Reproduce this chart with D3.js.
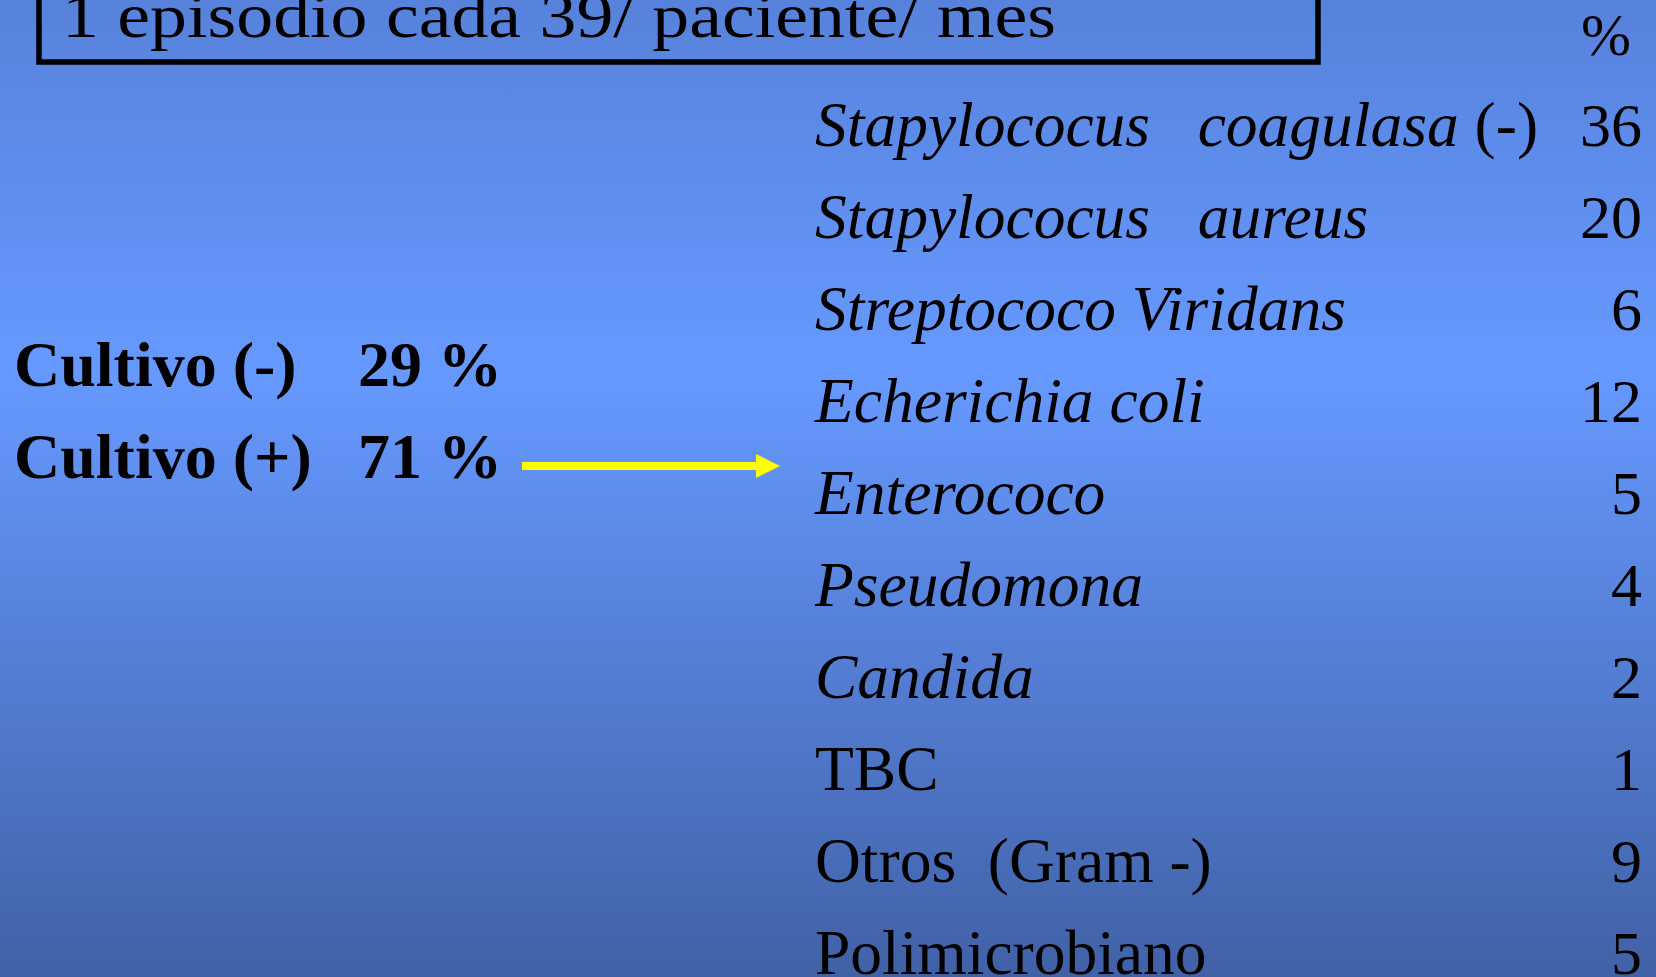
<!DOCTYPE html>
<html>
<head>
<meta charset="utf-8">
<script src="https://cdn.jsdelivr.net/npm/d3@7"></script>
<style>
  html, body { margin: 0; padding: 0; overflow: hidden; }
  text { font-family: "Liberation Serif", "Times New Roman", serif; fill: #000; white-space: pre; }
</style>
</head>
<body>
<script>
// data
var title = "1 episodio cada 39/ paciente/ mes";
var cultivoLabels = ["Cultivo (-)", "Cultivo (+)"];
var cultivoPct = [29, 71];
var organisms = ["Stapylococus   coagulasa (-)", "Stapylococus   aureus", "Streptococo Viridans",
                 "Echerichia coli", "Enterococo", "Pseudomona", "Candida", "TBC",
                 "Otros  (Gram -)", "Polimicrobiano"];
var italic = [true, true, true, true, true, true, true, false, false, false];
var percents = [36, 20, 6, 12, 5, 4, 2, 1, 9, 5];

var width = 1656, height = 977;

var svg = d3.select("body").append("svg")
    .attr("width", width)
    .attr("height", height);

// background gradient
var defs = svg.append("defs");
var grad = defs.append("linearGradient").attr("id", "bg")
    .attr("x1", 0).attr("y1", 0).attr("x2", 0).attr("y2", 1);
grad.append("stop").attr("offset", "0%").attr("stop-color", "#5782db");
grad.append("stop").attr("offset", "38%").attr("stop-color", "#6699ff");
grad.append("stop").attr("offset", "100%").attr("stop-color", "#4161a6");
svg.append("rect").attr("width", width).attr("height", height).attr("fill", "url(#bg)");

// title box (top cut off by the frame)
svg.append("rect")
    .attr("x", 39).attr("y", -20)
    .attr("width", 1318 - 39).attr("height", 62 + 20)
    .attr("fill", "none").attr("stroke", "#000").attr("stroke-width", 5.5);
svg.append("text")
    .attr("x", 62).attr("y", 37)
    .attr("font-size", 64)
    .attr("textLength", 994).attr("lengthAdjust", "spacingAndGlyphs")
    .text(title);

// rows
var y = d3.scalePoint()
    .domain(d3.range(organisms.length))
    .range([146, 146 + 92 * (organisms.length - 1)]);

var listX = 815, numX = 1642;

svg.append("text")
    .attr("x", 1606).attr("y", 55)
    .attr("font-size", 60)
    .attr("text-anchor", "middle")
    .text("%");

var rows = svg.append("g").selectAll("g")
    .data(organisms)
    .join("g");

rows.append("text")
    .attr("x", listX)
    .attr("y", (d, i) => y(i))
    .attr("font-size", 63.5)
    .each(function(d, i) {
      var t = d3.select(this);
      if (!italic[i]) { t.text(d); return; }
      var m = d.match(/^(.*?)(\s*\(.*\))?$/);
      t.append("tspan").attr("font-style", "italic").text(m[1]);
      if (m[2]) t.append("tspan").text(m[2]);
    });

rows.append("text")
    .attr("x", numX)
    .attr("y", (d, i) => y(i))
    .attr("font-size", 62)
    .attr("text-anchor", "end")
    .text((d, i) => percents[i]);

// cultivo labels
var yc = d3.scalePoint().domain(d3.range(cultivoLabels.length)).range([386, 478]);

var cult = svg.append("g").selectAll("g")
    .data(cultivoLabels)
    .join("g")
    .attr("font-weight", "bold")
    .attr("font-size", 64);
cult.append("text")
    .attr("x", 14).attr("y", (d, i) => yc(i))
    .text(d => d);
cult.append("text")
    .attr("x", 358).attr("y", (d, i) => yc(i))
    .text((d, i) => cultivoPct[i] + " %");

// yellow arrow
var ay = 466;
svg.append("line")
    .attr("x1", 522).attr("x2", 758)
    .attr("y1", ay).attr("y2", ay)
    .attr("stroke", "#ffff00").attr("stroke-width", 8);
svg.append("path")
    .attr("d", d3.line()([[756, ay - 12], [780, ay], [756, ay + 12]]) + "Z")
    .attr("fill", "#ffff00");
</script>
</body>
</html>
